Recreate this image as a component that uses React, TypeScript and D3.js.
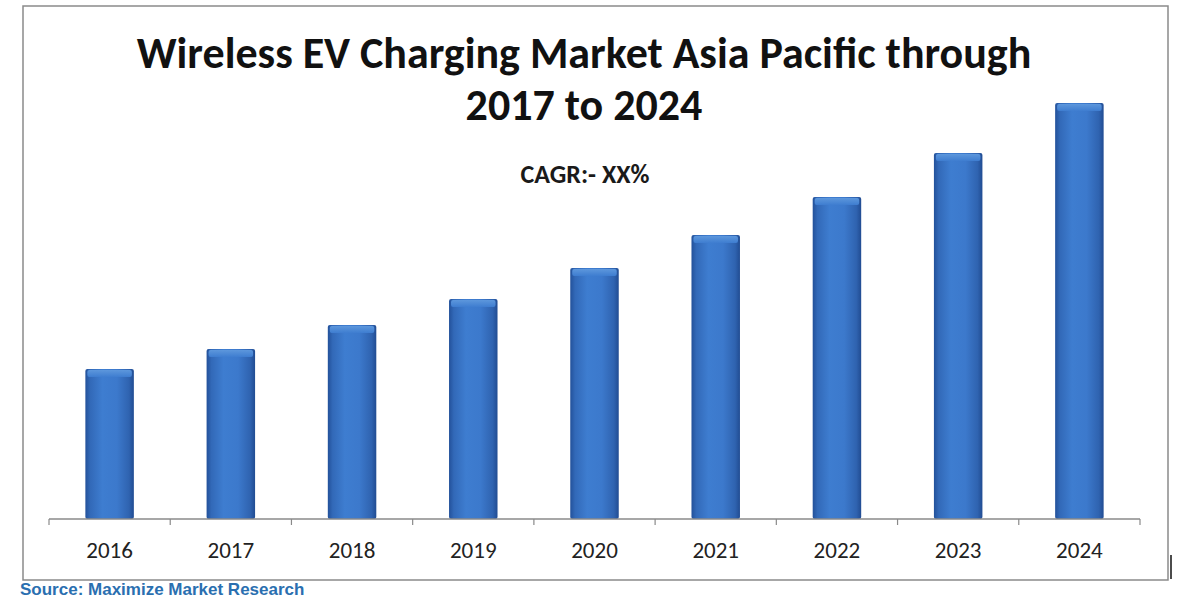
import { useRef, useEffect } from 'react';
import * as d3 from 'd3';

const years = ['2016', '2017', '2018', '2019', '2020', '2021', '2022', '2023', '2024'];
const marketValues = [150, 170, 194, 220, 251, 284, 322, 366, 416];
const titleLines = ['Wireless EV Charging Market Asia Pacific through', '2017 to 2024'];
const cagrLabel = 'CAGR:- XX%';
const sourceLabel = 'Source: Maximize Market Research';

const W = 1200;
const H = 600;
const FONT = "Calibri, Carlito, Lato, 'Open Sans', sans-serif";

export default function App() {
	const svgRef = useRef<SVGSVGElement>(null);

	useEffect(() => {
		const svg = d3.select(svgRef.current);
		svg.selectAll('*').remove();

		const plot = { left: 49, right: 1140, top: 69, bottom: 519 };

		const x = d3.scaleBand<string>().domain(years).range([plot.left, plot.right]).paddingInner(0.6).paddingOuter(0.3);
		const y = d3.scaleLinear().domain([0, 450]).range([plot.bottom, plot.top]);

		const defs = svg.append('defs');
		const grad = defs
			.append('linearGradient')
			.attr('id', 'barGrad')
			.attr('x1', '0%')
			.attr('x2', '100%')
			.attr('y1', '0%')
			.attr('y2', '0%');
		[
			['0%', '#23519a'],
			['10%', '#3269b8'],
			['35%', '#3e7dd0'],
			['65%', '#3c79cc'],
			['90%', '#2f63b0'],
			['100%', '#214c92'],
		].forEach(([o, c]) => grad.append('stop').attr('offset', o).attr('stop-color', c));

		const capGrad = defs
			.append('linearGradient')
			.attr('id', 'capGrad')
			.attr('x1', '0%')
			.attr('x2', '0%')
			.attr('y1', '0%')
			.attr('y2', '100%');
		[
			['0%', '#5d97dc'],
			['100%', '#3e7dd0'],
		].forEach(([o, c]) => capGrad.append('stop').attr('offset', o).attr('stop-color', c));

		// outer frame
		svg.append('rect')
			.attr('x', 23)
			.attr('y', 6)
			.attr('width', 1145)
			.attr('height', 574)
			.attr('fill', 'white')
			.attr('stroke', '#8a8a8a')
			.attr('stroke-width', 1.5);

		// title
		const title = svg.append('text')
			.attr('text-anchor', 'middle')
			.attr('font-family', FONT)
			.attr('font-weight', 700)
			.attr('font-size', 44)
			.attr('fill', '#111');
		titleLines.forEach((t, i) => {
			title.append('tspan').attr('x', 584).attr('y', 68 + i * 52).text(t);
		});

		svg.append('text')
			.attr('x', 585)
			.attr('y', 183)
			.attr('text-anchor', 'middle')
			.attr('font-family', FONT)
			.attr('font-weight', 600)
			.attr('font-size', 26)
			.attr('fill', '#1a1a1a')
			.text(cagrLabel);

		// bars
		const bars = svg.append('g');
		years.forEach((yr, i) => {
			const bx = x(yr)!;
			const by = y(marketValues[i]);
			const bw = x.bandwidth();
			const bh = plot.bottom - by;
			bars.append('rect')
				.attr('x', bx)
				.attr('y', by)
				.attr('width', bw)
				.attr('height', bh)
				.attr('rx', 2)
				.attr('fill', 'url(#barGrad)');
			bars.append('rect')
				.attr('x', bx + 2)
				.attr('y', by + 1)
				.attr('width', bw - 4)
				.attr('height', 7)
				.attr('rx', 2)
				.attr('fill', 'url(#capGrad)');
		});

		// x axis
		const axis = svg.append('g');
		axis.append('line')
			.attr('x1', plot.left)
			.attr('x2', plot.right)
			.attr('y1', plot.bottom)
			.attr('y2', plot.bottom)
			.attr('stroke', '#8a8a8a')
			.attr('stroke-width', 1.5);
		const step = (plot.right - plot.left) / years.length;
		d3.range(years.length + 1).forEach((k) => {
			const tx = plot.left + k * step;
			axis.append('line')
				.attr('x1', tx)
				.attr('x2', tx)
				.attr('y1', plot.bottom)
				.attr('y2', plot.bottom + 6)
				.attr('stroke', '#8a8a8a')
				.attr('stroke-width', 1.2);
		});
		years.forEach((yr) => {
			axis.append('text')
				.attr('x', x(yr)! + x.bandwidth() / 2)
				.attr('y', 558)
				.attr('text-anchor', 'middle')
				.attr('font-family', FONT)
				.attr('font-size', 23)
				.attr('fill', '#222')
				.text(yr);
		});

		// cursor mark at right edge
		svg.append('line')
			.attr('x1', 1171)
			.attr('x2', 1171)
			.attr('y1', 555)
			.attr('y2', 579)
			.attr('stroke', '#111')
			.attr('stroke-width', 1.5);

		// source
		svg.append('text')
			.attr('x', 20)
			.attr('y', 595)
			.attr('font-family', "'Liberation Sans', Arial, sans-serif")
			.attr('font-weight', 700)
			.attr('font-size', 17)
			.attr('fill', '#2a6fb0')
			.text(sourceLabel);
	}, []);

	return (
		<svg
			ref={svgRef}
			width={W}
			height={H}
			style={{ position: 'absolute', left: 0, top: 0, background: 'white', display: 'block' }}
		/>
	);
}
